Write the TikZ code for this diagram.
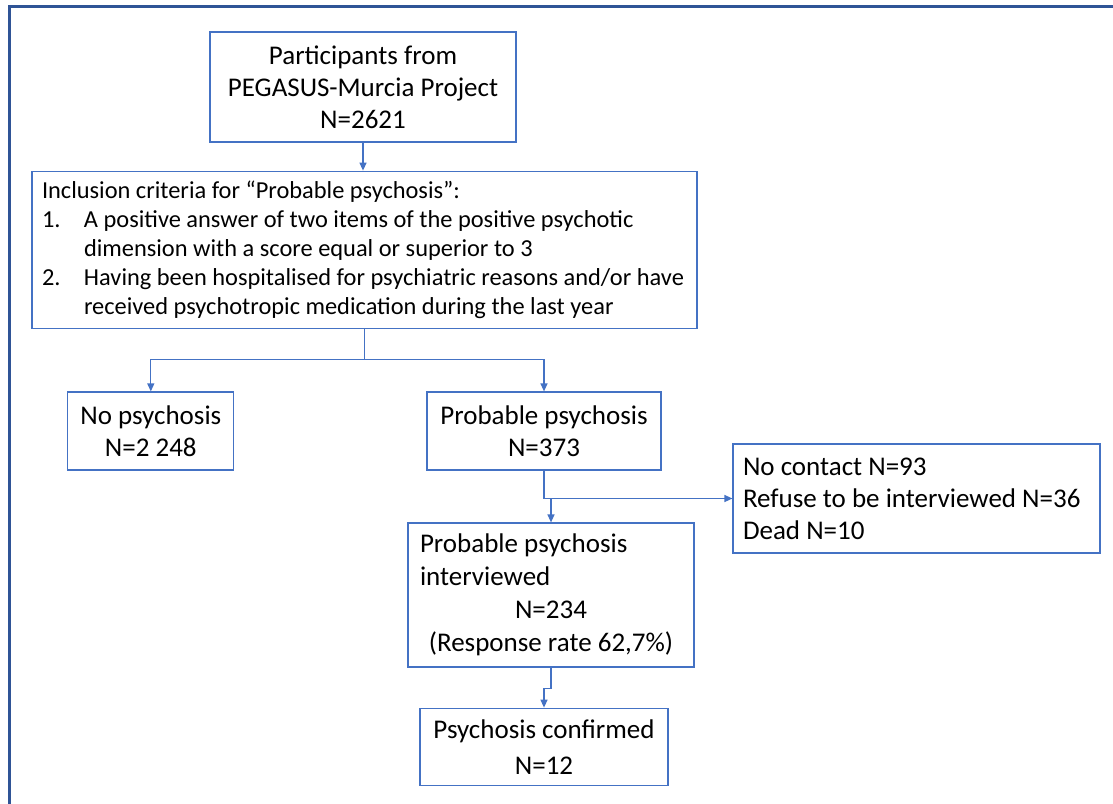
\documentclass[tikz,border=0pt]{standalone}
\usepackage{fontspec}
\setmainfont{Carlito}
\usetikzlibrary{arrows.meta,positioning}
\definecolor{pgblue}{RGB}{68,114,196}
\definecolor{pgframe}{RGB}{47,84,150}

\begin{document}
\begin{tikzpicture}[x=1pt,y=-1pt,
      box/.style={draw=pgblue,line width=1.2pt,align=center,inner sep=0pt,font=\fontsize{27}{32}\selectfont},
      wire/.style={draw=pgblue,line width=1.3pt},
      link/.style={wire,->},
      >={Triangle[length=8pt,width=7pt]}]
    \useasboundingbox (0,0) rectangle (1113,803);
    \draw[pgframe,line width=3pt] (9,810) -- (9,6) -- (1120,6);
    \node[box,minimum width=306pt,minimum height=110pt] (part) at (363,87) {Participants from\\PEGASUS-Murcia Project\\N=2621};
    \node[box,below=28pt of part,xshift=1.5pt,minimum width=665pt,minimum height=157pt,text width=645pt,align=flush left,font=\fontsize{24.4}{29}\selectfont] (crit) {Inclusion criteria for “Probable psychosis”:\\
      \makebox[42pt][l]{1.}A positive answer of two items of the positive psychotic\\
      \hspace*{42pt}dimension with a score equal or superior to 3\\
      \makebox[42pt][l]{2.}Having been hospitalised for psychiatric reasons and/or have\\
      \hspace*{42pt}received psychotropic medication during the last year};
    \node[box,minimum width=234pt,minimum height=78pt] (prob) at (544,431) {Probable psychosis\\N=373};
    \node[box,left=192pt of prob,minimum width=166pt,minimum height=78pt] (nopsy) {No psychosis\\N=2 248};
    \node[box,align=flush left,text width=347pt,minimum width=367pt,minimum height=109pt] (drop) at (916.5,498.5) {No contact N=93\\Refuse to be interviewed N=36\\Dead N=10};
    \node[box,align=flush left,text width=262pt,minimum width=286pt,minimum height=144pt,font=\fontsize{27}{33}\selectfont] (intv) at (551,595) {Probable psychosis\\interviewed\\\makebox[\linewidth]{N=234}\\\makebox[\linewidth]{(Response rate 62,7\%)}};
    \node[box,below=40pt of intv,xshift=-7pt,minimum width=248pt,minimum height=77pt,font=\fontsize{27}{36}\selectfont] (conf) {Psychosis confirmed\\N=12};
    \coordinate[below=31pt of crit.south] (fork);
    \coordinate (turn) at (prob.south |- drop.west);
    \coordinate[below=21pt of intv.south] (kink);
    \draw[link] (part.south) -- (part.south |- crit.north);
    \draw[wire] (crit.south) -- (fork);
    \draw[link] (fork) -| (nopsy);
    \draw[link] (fork) -| (prob);
    \draw[wire] (prob.south) -- (turn);
    \draw[link] (turn) -- (drop.west);
    \draw[link] (turn) -| (intv.north);
    \draw[link] (intv.south) -- (kink) -| (conf.north);
  \end{tikzpicture}
\end{document}
